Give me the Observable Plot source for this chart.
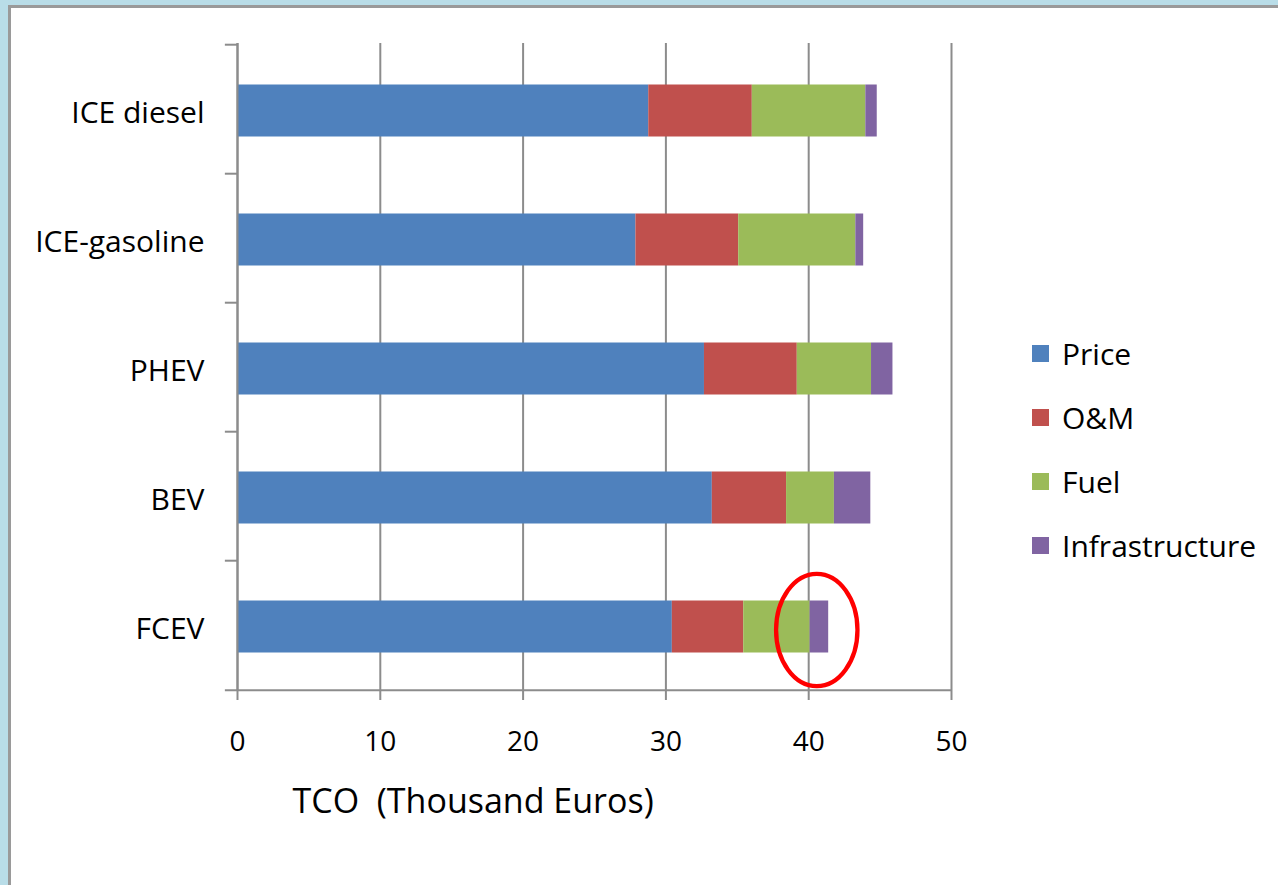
<!DOCTYPE html>
<html>
<head>
<meta charset="utf-8">
<script src="https://cdn.jsdelivr.net/npm/d3@7"></script>
<script src="https://cdn.jsdelivr.net/npm/@observablehq/plot@0.6"></script>
<style>
  html, body { margin: 0; padding: 0; }
  body { width: 1278px; height: 885px; background: #b9dde8; position: relative; overflow: hidden; font-family: "Open Sans", sans-serif; }
  #frame { position: absolute; left: 8px; top: 5px; right: 0; bottom: 0; background: #fff;
           border-left: 3px solid #9a9a9a; border-top: 3px solid #9a9a9a; }
  #chart { position: absolute; left: 0; top: 0; }
  #chart svg { background: transparent; overflow: visible; }
  #legend { position: absolute; left: 1032px; top: 321px; }
  #legend .lg-swatches { font-family: "Open Sans", sans-serif !important; font-size: 30px !important; color: #000 !important; margin: 0 !important; }
  #legend .lg-swatch { display: flex !important; align-items: center !important; height: 64px !important; padding: 0 !important; }
  #legend .lg-swatch svg { margin-right: 13px !important; }
</style>
</head>
<body>
<div id="frame"></div>
<div id="chart"></div>
<div id="legend"></div>
<script>
// Total cost of ownership by vehicle type, thousand euros
const vehicles = ["ICE diesel", "ICE-gasoline", "PHEV", "BEV", "FCEV"];
const components = ["Price", "O&M", "Fuel", "Infrastructure"];
const price = [28.8, 27.9, 32.7, 33.25, 30.45];
const oAndM = [7.25, 7.2, 6.5, 5.2, 5.0];
const fuel = [7.95, 8.2, 5.2, 3.35, 4.65];
const infrastructure = [0.8, 0.55, 1.5, 2.55, 1.3];
const xTicks = [0, 10, 20, 30, 40, 50];
const colors = ["#4f81bd", "#c0504d", "#9bbb59", "#8064a2"];
const axisTitle = "TCO\u00a0 (Thousand Euros)";

// highlighted FCEV total (thousand euros) and its half-width
const highlight = {vehicle: "FCEV", x: 40.6, rx: 2.85};

const series = [price, oAndM, fuel, infrastructure];
const rows = vehicles.flatMap((v, i) =>
  components.map((c, j) => ({vehicle: v, component: c, value: series[j][i]}))
);

const W = 1278, H = 885;
const mLeft = 237, mRight = 327, mTop = 43, mBottom = 194;
const step = (H - mTop - mBottom) / vehicles.length;
const grey = "#8c8c8c";

const plot = Plot.plot({
  width: W,
  height: H,
  marginLeft: mLeft,
  marginRight: mRight,
  marginTop: mTop,
  marginBottom: mBottom,
  style: {fontFamily: "Open Sans", fontSize: "28px", color: "#000", background: "transparent"},
  x: {domain: [0, 50], ticks: xTicks, label: null},
  y: {domain: vehicles, paddingInner: 0.6, paddingOuter: 0.3, label: null},
  color: {domain: components, range: colors},
  marks: [
    Plot.gridX(xTicks, {stroke: grey, strokeOpacity: 1, strokeWidth: 2}),
    Plot.barX(rows, {x: "value", y: "vehicle", fill: "component", dy: 1.5}),
    // vertical axis line
    Plot.ruleX([0], {stroke: grey, strokeWidth: 2}),
    // category boundary ticks on the left
    Plot.ruleY(vehicles, {y: d => d, x1: -0.85, x2: 0, dy: -step / 2, stroke: grey, strokeWidth: 2}),
    // bottom axis line, extended as the last boundary tick
    Plot.ruleY(vehicles.slice(-1), {y: d => d, x1: -0.85, x2: 50, dy: step / 2, stroke: grey, strokeWidth: 2}),
    Plot.axisX(xTicks, {tickSize: 9, tickPadding: 31, stroke: grey, strokeWidth: 2, fill: "#000", label: null}),
    Plot.axisY({tickSize: 0, tickPadding: 33, fill: "#000", fontSize: 30, dy: 4, label: null}),
    Plot.text([axisTitle], {x: 16.5, frameAnchor: "bottom", dy: 121, text: d => d, fontSize: 34, fill: "#000"})
  ]
});
document.getElementById("chart").appendChild(plot);

// red ellipse around the FCEV total
const xs = plot.scale("x"), ys = plot.scale("y");
const cx = xs.apply(highlight.x);
const rx = xs.apply(highlight.x + highlight.rx) - cx;
const cy = ys.apply(highlight.vehicle) + ys.bandwidth / 2 + 5;
d3.select(plot).append("ellipse")
  .attr("cx", cx).attr("cy", cy)
  .attr("rx", rx).attr("ry", ys.bandwidth * 1.08)
  .attr("fill", "none").attr("stroke", "#ff0000").attr("stroke-width", 4.3);

const legend = Plot.legend({
  color: {domain: components, range: colors},
  legend: "swatches",
  columns: 1,
  swatchSize: 17,
  className: "lg"
});
document.getElementById("legend").appendChild(legend);
</script>
</body>
</html>
